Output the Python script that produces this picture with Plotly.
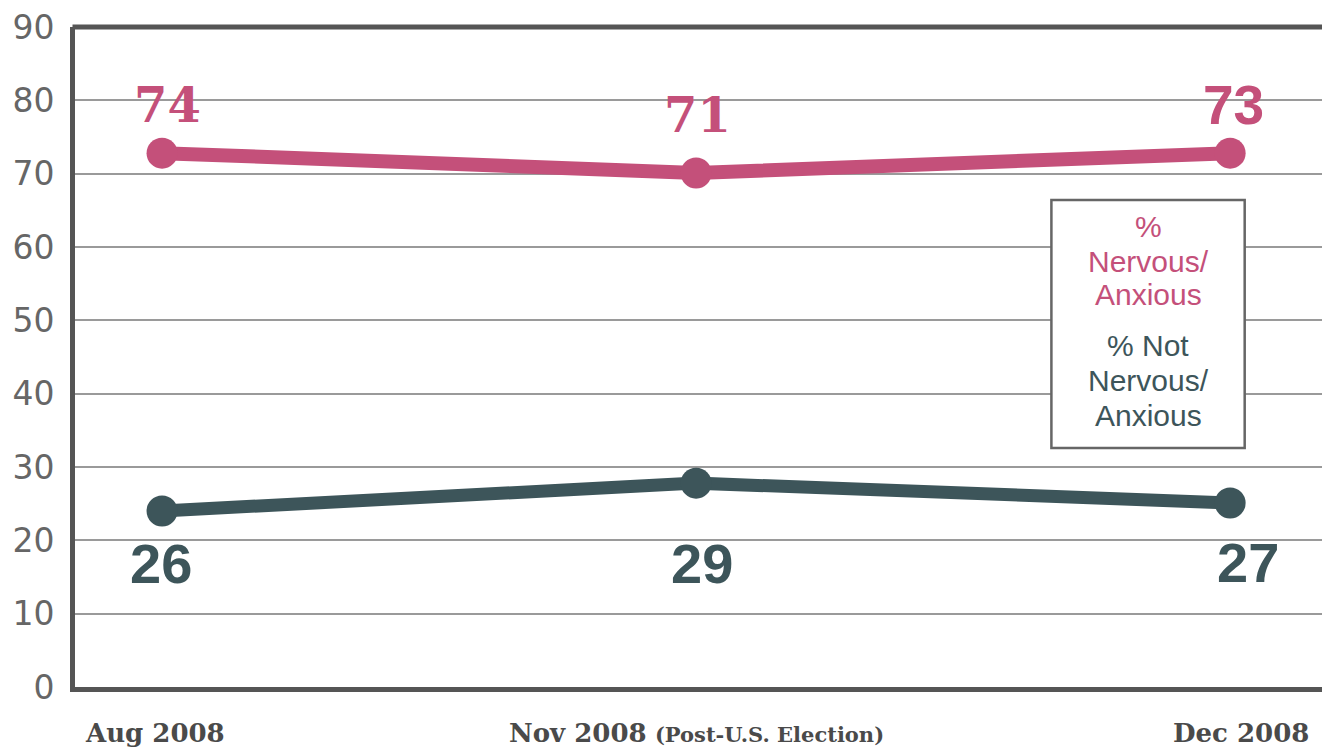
import plotly.graph_objects as go

# survey waves
waves = ["Aug 2008", "Nov 2008", "Dec 2008"]
wave_notes = ["", "(Post-U.S. Election)", ""]

# where the points sit on the chart vs. the numbers printed next to them
nervous_plot = [72.8, 70.1, 72.8]
nervous_label = [74, 71, 73]
calm_plot = [24.0, 27.8, 25.1]
calm_label = [26, 29, 27]

y_ticks = [0, 10, 20, 30, 40, 50, 60, 70, 80, 90]

legend_nervous = ["%", "Nervous/", "Anxious"]
legend_calm = ["% Not", "Nervous/", "Anxious"]

PINK = "#C4507A"
TEAL = "#3D555A"
AXIS = "#555555"

x = list(range(len(waves)))

fig = go.Figure()
fig.add_trace(go.Scatter(
    x=x, y=nervous_plot, mode="lines+markers",
    line=dict(color=PINK, width=14),
    marker=dict(color=PINK, size=31),
    hoverinfo="skip", showlegend=False,
))
fig.add_trace(go.Scatter(
    x=x, y=calm_plot, mode="lines+markers",
    line=dict(color=TEAL, width=13),
    marker=dict(color=TEAL, size=31),
    hoverinfo="skip", showlegend=False,
))

annotations = []
# value labels
top_shift = [48, 58, 48]
for i, (yv, lab) in enumerate(zip(nervous_plot, nervous_label)):
    fnt = "DejaVu Serif" if i < 2 else "Liberation Sans"
    size = 48 if i < 2 else 55
    annotations.append(dict(
        x=i, y=yv, text="<b>%d</b>" % lab, showarrow=False,
        yshift=top_shift[i], xshift=[5, 1, 3][i],
        font=dict(family=fnt, size=size, color=PINK),
    ))
bot_shift = [-52, -80, -60]
for i, (yv, lab) in enumerate(zip(calm_plot, calm_label)):
    annotations.append(dict(
        x=i, y=yv, text="<b>%d</b>" % lab, showarrow=False,
        yshift=bot_shift[i], xshift=[-1, 6, 18][i],
        font=dict(family="Liberation Sans", size=56, color=TEAL),
    ))

# x category labels
for i, (w, note) in enumerate(zip(waves, wave_notes)):
    txt = "<b>%s</b>" % w
    if note:
        txt += " <span style='font-size:21px'><b>%s</b></span>" % note
    annotations.append(dict(
        x=i, y=0, yref="y", text=txt, showarrow=False,
        yshift=-46, xshift=[-7, 0, 11][i],
        font=dict(family="DejaVu Serif", size=26, color="#4a4a4a"),
    ))

# legend box text, one line at a time
nerv_y = [0.697, 0.645, 0.594]
calm_y = [0.517, 0.464, 0.412]
for line, yy in zip(legend_nervous, nerv_y):
    annotations.append(dict(
        x=0.8605, y=yy, xref="paper", yref="paper", showarrow=False,
        xanchor="center", yanchor="middle", text=line,
        font=dict(family="Liberation Sans", size=30, color=PINK),
    ))
for line, yy in zip(legend_calm, calm_y):
    annotations.append(dict(
        x=0.8605, y=yy, xref="paper", yref="paper", showarrow=False,
        xanchor="center", yanchor="middle", text=line,
        font=dict(family="Liberation Sans", size=30, color=TEAL),
    ))

shapes = [
    # top frame line
    dict(type="line", xref="paper", yref="paper", x0=-0.002, x1=1, y0=1, y1=1,
         line=dict(color=AXIS, width=5)),
    # legend box
    dict(type="rect", xref="paper", yref="paper", x0=0.783, x1=0.938,
         y0=0.362, y1=0.738, fillcolor="white", line=dict(color="#666666", width=2.5),
         layer="above"),
]

fig.update_layout(
    width=1322, height=750,
    margin=dict(l=75, r=0, t=27, b=63),
    paper_bgcolor="white", plot_bgcolor="white",
    showlegend=False,
    annotations=annotations,
    shapes=shapes,
    xaxis=dict(
        range=[-0.163, 2.172], showgrid=False, zeroline=False,
        showticklabels=False, showline=True, linecolor=AXIS, linewidth=5,
        fixedrange=True,
    ),
    yaxis=dict(
        range=[0, 90], tickvals=y_ticks, showgrid=True, gridcolor="#9a9a9a",
        gridwidth=2, zeroline=False, showline=True, linecolor=AXIS,
        linewidth=5, ticklabelstandoff=9,
        tickfont=dict(family="DejaVu Sans", size=33, color="#666666"),
        fixedrange=True,
    ),
)

fig.write_html(
    "out.html",
    config={"displayModeBar": False},
    post_script="document.body.style.margin='0';document.body.style.overflow='hidden';",
)
